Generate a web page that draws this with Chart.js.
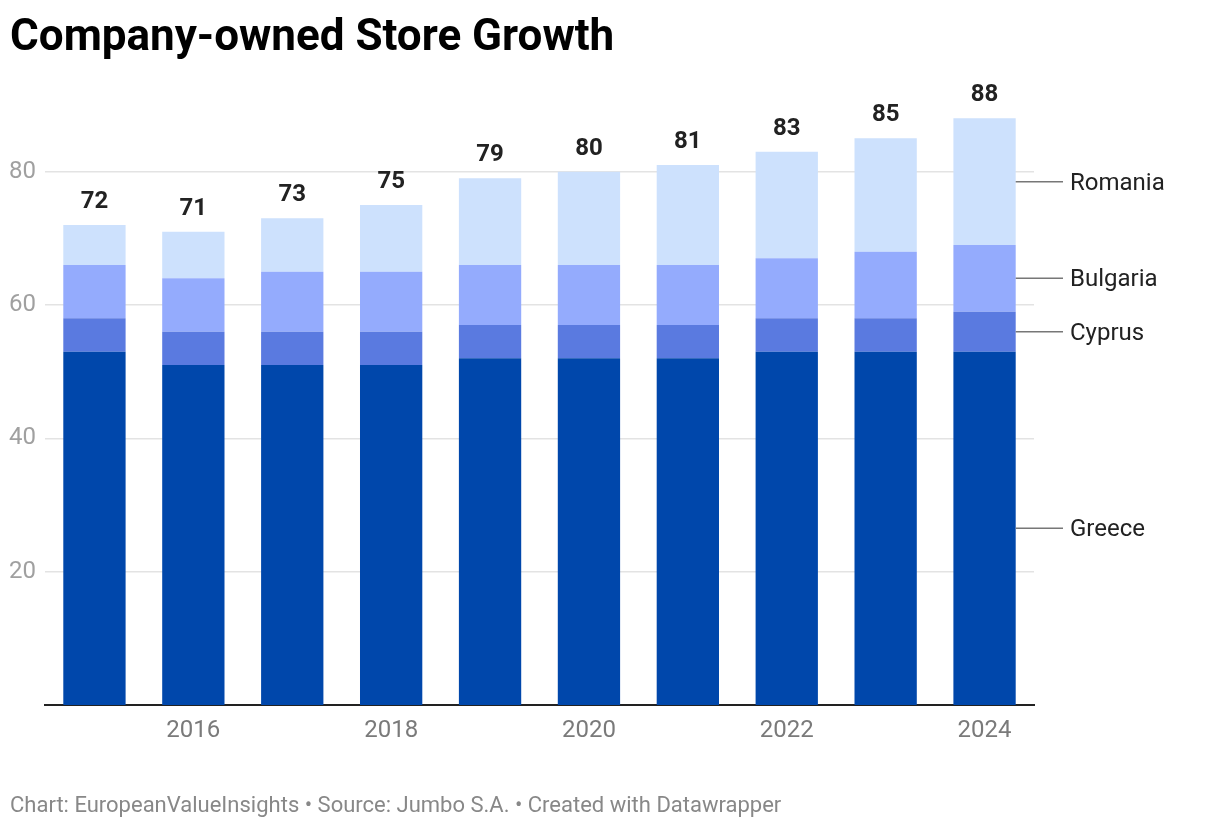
<!DOCTYPE html>
<html>
<head>
<meta charset="utf-8">
<script src="https://cdn.jsdelivr.net/npm/chart.js@4"></script>
<style>
  html, body { margin: 0; padding: 0; background: #fff; }
  #wrap { position: relative; width: 1220px; height: 828px; }
  canvas { display: block; }
</style>
</head>
<body>
<div id="wrap"><canvas id="c" width="1220" height="828"></canvas></div>
<script>
const years = ['2015','2016','2017','2018','2019','2020','2021','2022','2023','2024'];
const greece   = [53, 51, 51, 51, 52, 52, 52, 53, 53, 53];
const cyprus   = [5, 5, 5, 5, 5, 5, 5, 5, 5, 6];
const bulgaria = [8, 8, 9, 9, 9, 9, 9, 9, 10, 10];
const romania  = [6, 7, 8, 10, 13, 14, 15, 16, 17, 19];
const seriesNames = ['Greece', 'Cyprus', 'Bulgaria', 'Romania'];
const seriesColors = ['#0047ab', '#5a7ae0', '#94abfd', '#cde1fd'];
const yTicks = [20, 40, 60, 80];
const titleText = 'Company-owned Store Growth';
const footerText = 'Chart: EuropeanValueInsights \u2022 Source: Jumbo S.A. \u2022 Created with Datawrapper';

const FONT = 'Roboto, "Noto Sans", sans-serif';

const overlay = {
  id: 'overlay',
  afterDraw(chart) {
    const ctx = chart.ctx;
    ctx.save();
    // title
    ctx.fillStyle = '#000';
    ctx.font = 'bold 44px ' + FONT;
    ctx.textAlign = 'left';
    ctx.textBaseline = 'alphabetic';
    ctx.fillText(titleText, 10, 50);
    // footer
    ctx.fillStyle = '#888';
    ctx.font = '22px ' + FONT;
    ctx.fillText(footerText, 10, 812);
    // totals
    const n = years.length;
    const lastMeta = chart.getDatasetMeta(chart.data.datasets.length - 1);
    ctx.fillStyle = '#222';
    ctx.font = 'bold 24px ' + FONT;
    ctx.textAlign = 'center';
    ctx.textBaseline = 'middle';
    for (let i = 0; i < n; i++) {
      const total = greece[i] + cyprus[i] + bulgaria[i] + romania[i];
      const x = lastMeta.data[i].x;
      const y = chart.scales.y.getPixelForValue(total);
      ctx.fillText(String(total), x, y - 23);
    }
    // direct labels on last bar
    const li = n - 1;
    let base = 0;
    ctx.font = '24px ' + FONT;
    ctx.textAlign = 'left';
    chart.data.datasets.forEach((ds, di) => {
      const v = ds.data[li];
      const mid = base + v / 2;
      base += v;
      const bar = chart.getDatasetMeta(di).data[li];
      const xr = bar.x + bar.width / 2;
      const y = chart.scales.y.getPixelForValue(mid);
      ctx.strokeStyle = '#777';
      ctx.lineWidth = 1.5;
      ctx.beginPath();
      ctx.moveTo(xr, y);
      ctx.lineTo(1063, y);
      ctx.stroke();
      ctx.fillStyle = '#222';
      ctx.fillText(ds.label, 1070, y + 2);
    });
    ctx.restore();
  }
};

const dataArrays = [greece, cyprus, bulgaria, romania];
new Chart(document.getElementById('c'), {
  type: 'bar',
  data: {
    labels: years,
    datasets: dataArrays.map((d, i) => ({
      label: seriesNames[i],
      data: d,
      backgroundColor: seriesColors[i],
      borderWidth: 0,
      categoryPercentage: 1,
      barPercentage: 0.63
    }))
  },
  options: {
    responsive: false,
    animation: false,
    layout: { padding: { top: 105, right: 186, left: 0, bottom: 0 } },
    plugins: { legend: { display: false }, tooltip: { enabled: false } },
    scales: {
      x: {
        stacked: true,
        grid: { display: false, drawTicks: false },
        border: { display: true, color: '#222', width: 2 },
        ticks: {
          autoSkip: false,
          maxRotation: 0,
          padding: 12,
          color: '#7a7a7a',
          font: { family: FONT, size: 24 },
          callback: function(v, i) { const y = years[i]; return (parseInt(y) % 2 === 0) ? y : ''; }
        },
        afterFit(s) { s.height = 123; }
      },
      y: {
        stacked: true,
        min: 0,
        max: 90,
        afterBuildTicks(s) { s.ticks = yTicks.map(v => ({ value: v })); },
        grid: { color: '#e3e3e3', lineWidth: 1.5, drawTicks: false },
        border: { display: false },
        ticks: {
          padding: 9,
          color: '#a0a0a0',
          font: { family: FONT, size: 24 }
        },
        afterFit(s) { s.width = 45; }
      }
    }
  },
  plugins: [overlay]
});
</script>
</body>
</html>
